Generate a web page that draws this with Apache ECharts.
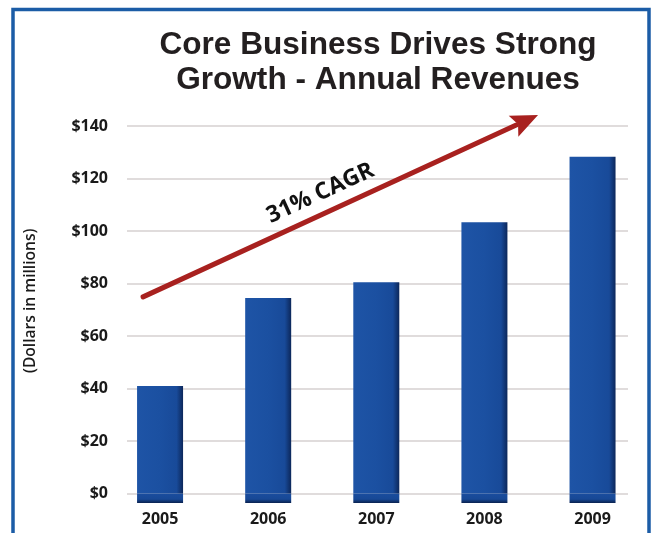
<!DOCTYPE html>
<html>
<head>
<meta charset="utf-8">
<script src="https://cdn.jsdelivr.net/npm/echarts@6/dist/echarts.min.js"></script>
<style>
html,body{margin:0;padding:0;background:#fff;}
#chart{width:657px;height:533px;}
</style>
</head>
<body>
<div id="chart"></div>
<script>
// ---- data ----
const years = ['2005', '2006', '2007', '2008', '2009'];
const revenues = [41, 74.5, 80.5, 103.3, 128.3];
const yTicks = [0, 20, 40, 60, 80, 100, 120, 140];
const titleLines = ['Core Business Drives Strong', 'Growth - Annual Revenues'];
const yAxisTitle = '(Dollars in millions)';
const cagrLabel = '31% CAGR';
// arrow tail and tip in (category index, value) space
const arrowStart = [-0.157, 74.9];
const arrowEnd = [3.496, 144.2];

// ---- style constants ----
const BASE = 3.6; // visual plinth of the bars below the zero line
const Y_MIN = yTicks[0], Y_MAX = yTicks[yTicks.length - 1], Y_STEP = yTicks[1] - yTicks[0];
const GRID_TOP = 126, GRID_H = 367.5;
const pxPerUnit = GRID_H / (Y_MAX - Y_MIN);
const BAR_LEFT = 106, BAR_W = 540.6;
const LINE_LEFT = 127, LINE_RIGHT_X = 628;
const band = BAR_W / years.length;
const idxAt = x => (x - BAR_LEFT) / band - 0.5;
const ARROW_COLOR = '#a8211f';
const HEAD_LEN = 27, HEAD_HALF_W = 11.5;
const LABEL_T = 0.47, LABEL_OFF = 20;

const chart = echarts.init(document.getElementById('chart'));
const barGrad = new echarts.graphic.LinearGradient(0, 0, 1, 0, [
  { offset: 0, color: '#1e54a6' },
  { offset: 0.5, color: '#1b50a1' },
  { offset: 0.86, color: '#184a99' },
  { offset: 1, color: '#0c275a' }
]);
const baseGrad = new echarts.graphic.LinearGradient(0, 0, 0, 1, [
  { offset: 0, color: '#1a4d9e' },
  { offset: 0.6, color: '#174895' },
  { offset: 1, color: '#0a2250' }
]);

function renderArrow(params, api) {
  const p0 = api.coord([api.value(0), api.value(1)]);
  const p1 = api.coord([api.value(2), api.value(3)]);
  const dx = p1[0] - p0[0], dy = p1[1] - p0[1];
  const len = Math.sqrt(dx * dx + dy * dy);
  const ux = dx / len, uy = dy / len;
  const nx = uy, ny = -ux; // normal pointing "up" of the line
  const bx = p1[0] - ux * HEAD_LEN, by = p1[1] - uy * HEAD_LEN;
  const lx = p0[0] + dx * LABEL_T + nx * LABEL_OFF;
  const ly = p0[1] + dy * LABEL_T + ny * LABEL_OFF;
  return {
    type: 'group',
    children: [
      { type: 'line',
        shape: { x1: p0[0], y1: p0[1], x2: bx + ux * 3, y2: by + uy * 3 },
        style: { stroke: ARROW_COLOR, lineWidth: 5, lineCap: 'round' } },
      { type: 'polygon',
        shape: { points: [
          [p1[0], p1[1]],
          [bx - nx * HEAD_HALF_W, by - ny * HEAD_HALF_W],
          [bx + ux * 5, by + uy * 5],
          [bx + nx * HEAD_HALF_W, by + ny * HEAD_HALF_W]
        ] },
        style: { fill: ARROW_COLOR } },
      { type: 'text',
        x: lx, y: ly,
        rotation: Math.atan2(-dy, dx),
        style: { text: cagrLabel, align: 'center', verticalAlign: 'middle',
          font: 'bold 23px "Open Sans", sans-serif', fill: '#111' } }
    ]
  };
}

chart.setOption({
  backgroundColor: '#ffffff',
  animation: false,
  title: {
    text: titleLines.join('\n'),
    left: 373,
    top: 23,
    textAlign: 'center',
    textStyle: {
      fontFamily: 'Liberation Sans, Arial, sans-serif',
      fontWeight: 'bold',
      fontSize: 31.6,
      lineHeight: 35,
      color: '#231f20'
    }
  },
  graphic: [{
    type: 'rect',
    shape: { x: 13, y: 9.5, width: 636, height: 560 },
    style: { fill: 'none', stroke: '#1b5ca6', lineWidth: 3.5 },
    silent: true,
    z: 100
  }],
  grid: [
    { left: LINE_LEFT, top: GRID_TOP, width: LINE_RIGHT_X - LINE_LEFT, height: GRID_H },
    { left: BAR_LEFT, top: GRID_TOP, width: BAR_W, height: GRID_H + BASE * pxPerUnit }
  ],
  xAxis: [
    { gridIndex: 0, type: 'value', show: false,
      min: idxAt(LINE_LEFT), max: idxAt(LINE_RIGHT_X),
      splitLine: { show: false } },
    { gridIndex: 1, type: 'category', data: years,
      axisLine: { show: false }, axisTick: { show: false },
      axisLabel: { margin: 8, fontFamily: 'Open Sans', fontWeight: 'bold', fontSize: 16, color: '#1a1a1a' } }
  ],
  yAxis: [
    { gridIndex: 0, type: 'value', min: Y_MIN, max: Y_MAX, interval: Y_STEP,
      axisLine: { show: false }, axisTick: { show: false },
      axisLabel: { margin: 19, fontFamily: 'Open Sans', fontWeight: 'bold', fontSize: 16, color: '#1a1a1a',
        formatter: v => '$' + v },
      splitLine: { lineStyle: { color: '#e0dcdc', width: 2 } },
      name: yAxisTitle, nameLocation: 'middle', nameGap: 88, nameRotate: 90,
      nameTextStyle: { fontFamily: 'Open Sans', fontWeight: 600, fontSize: 15.6, color: '#1a1a1a',
        padding: [0, 0, 0, 18] } },
    { gridIndex: 1, type: 'value', min: Y_MIN, max: Y_MAX + BASE, show: false,
      splitLine: { show: false } }
  ],
  series: [
    { type: 'bar', xAxisIndex: 1, yAxisIndex: 1, stack: 'rev', barWidth: 46,
      data: years.map(() => BASE), itemStyle: { color: baseGrad }, silent: true },
    { type: 'bar', xAxisIndex: 1, yAxisIndex: 1, stack: 'rev', barWidth: 46,
      data: revenues, itemStyle: { color: barGrad } },
    { type: 'custom', xAxisIndex: 0, yAxisIndex: 0, clip: false, silent: true, z: 5,
      data: [arrowStart.concat(arrowEnd)],
      renderItem: renderArrow }
  ]
});
</script>
</body>
</html>
